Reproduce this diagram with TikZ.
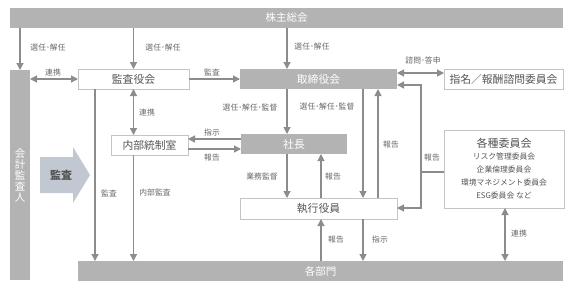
\documentclass[tikz,border=0pt]{standalone}
\usepackage{fontspec}
\setmainfont{Noto Sans CJK JP}
\usetikzlibrary{arrows.meta,calc}
\definecolor{barfill}{HTML}{B3B3B3}
\definecolor{linecol}{HTML}{8C8C8C}
\definecolor{lblcol}{HTML}{666666}
\definecolor{boxborder}{HTML}{C4C4C4}
\definecolor{boxtext}{HTML}{555555}
\definecolor{bigarrow}{HTML}{C2C8D2}
\begin{document}
\begin{tikzpicture}[x=1bp,y=-1bp,
  gbox/.style={fill=barfill,draw=none,text=white,inner sep=0,outer sep=0,anchor=north west,font=\fontsize{10.5bp}{12bp}\selectfont},
  wbox/.style={fill=white,draw=boxborder,line width=0.8bp,text=boxtext,inner sep=0,outer sep=0,anchor=north west,font=\fontsize{10.8bp}{12bp}\selectfont},
  lbl/.style={text=lblcol,inner sep=0,font=\fontsize{7.8bp}{9bp}\selectfont},
  arr/.style={draw=linecol,line width=1.2bp,-{Triangle[width=7bp,length=7bp]}},
  darr/.style={draw=linecol,line width=1.2bp,{Triangle[width=7bp,length=7bp]}-{Triangle[width=7bp,length=7bp]}},
  ln/.style={draw=linecol,line width=1.2bp}]
\useasboundingbox (0,0) rectangle (573,289);
% lanes
\coordinate (L95) at (95,0);
\coordinate (L287) at (287,0);
\coordinate (L321) at (321,0);
\coordinate (L363) at (363,0);
\coordinate (L378) at (378,0);
\coordinate (L421) at (421,0);
\coordinate (L505) at (505,0);
\coordinate (Y73) at (0,73);
\coordinate (Y85) at (0,85);
\coordinate (Y139) at (0,139);
\coordinate (Y149) at (0,149);
\coordinate (Y172) at (0,172);
\coordinate (Y208) at (0,208);
% nodes
\node[gbox,minimum width=553bp,minimum height=20bp] (top) at (10,8) {株主総会};
\node[gbox,minimum width=20bp,minimum height=210bp,align=center,font=\fontsize{10.5bp}{11bp}\selectfont] (left) at (10,70) {会\\計\\監\\査\\人};
\node[gbox,minimum width=485bp,minimum height=20bp] (bottom) at (78,261) {各部門};
\node[wbox,minimum width=111bp,minimum height=20bp] (kansa) at (78,69) {監査役会};
\node[gbox,minimum width=157bp,minimum height=20bp,font=\fontsize{10.8bp}{12bp}\selectfont] (tori) at (240,69) {取締役会};
\node[wbox,minimum width=119bp,minimum height=20bp] (shimei) at (444,69) {指名／報酬諮問委員会};
\node[wbox,minimum width=77bp,minimum height=20bp] (naibu) at (111,135) {内部統制室};
\node[gbox,minimum width=106bp,minimum height=20bp,font=\fontsize{10.8bp}{12bp}\selectfont] (shacho) at (241,134) {社長};
\node[wbox,minimum width=157bp,minimum height=21bp] (shikko) at (240,198) {執行役員};
\node[wbox,minimum width=120bp,minimum height=78bp] (kakushu) at (444,130) {};
\node[text=boxtext,inner sep=0,font=\fontsize{11bp}{12bp}\selectfont] (kakushuT) at (504,143) {各種委員会};
\node[text=boxtext,inner sep=0,align=center,font=\fontsize{7.8bp}{12.8bp}\selectfont,anchor=north] (kakushuS) at (504,153) {リスク管理委員会\\企業倫理委員会\\環境マネジメント委員会\\ESG委員会 など};
% big arrow
\fill[bigarrow] (40,157) -- (73,157) -- (73,147) -- (90,175) -- (73,203) -- (73,193) -- (40,193) -- cycle;
\node[text=boxtext,inner sep=0,font=\bfseries\fontsize{11bp}{12bp}\selectfont] (kansaA) at (61,175) {監査};
% connectors
\draw[arr] (top.south -| left.north) -- (left.north);
\draw[arr] (top.south -| kansa.north) -- (kansa.north);
\draw[arr] (top.south -| L287) -- (tori.north -| L287);
\draw[darr] (left.east |- kansa.west) -- (kansa.west);
\draw[arr] (kansa.east) -- (tori.west);
\draw[darr] (tori.east |- Y73) -- (shimei.west |- Y73);
\draw[darr] (kansa.south) -- (naibu.north -| kansa.south);
\draw[arr] (tori.south -| L287) -- (shacho.north -| L287);
\draw[arr] (shacho.west |- Y139) -- (naibu.east |- Y139);
\draw[arr] (naibu.east |- Y149) -- (shacho.west |- Y149);
\draw[arr] (shacho.south -| L287) -- (shikko.north -| L287);
\draw[arr] (shikko.north -| L321) -- (shacho.south -| L321);
\draw[arr] (tori.south -| L363) -- (shikko.north -| L363);
\draw[arr] (shikko.north -| L378) -- (tori.south -| L378);
\draw[ln] (kakushu.west |- Y172) -- (L421 |- Y172);
\draw[arr] (L421 |- Y172) |- (tori.east |- Y85);
\draw[arr] (L421 |- Y172) |- (shikko.east |- Y208);
\draw[arr] (kansa.south -| L95) -- (bottom.north -| L95);
\draw[arr] (naibu.south -| kansa.south) -- (bottom.north -| kansa.south);
\draw[arr] (shikko.south -| L363) -- (bottom.north -| L363);
\draw[arr] (bottom.north -| L321) -- (shikko.south -| L321);
\draw[darr] (kakushu.south -| L505) -- (bottom.north -| L505);
% labels
\node[lbl] (l1) at (48,48) {選任･解任};
\node[lbl] (l2) at (163,48) {選任･解任};
\node[lbl] (l3) at (312,47) {選任･解任};
\node[lbl] (l4) at (53,73) {連携};
\node[lbl] (l5) at (212,72) {監査};
\node[lbl] (l6) at (423,60) {諮問･答申};
\node[lbl] (l7) at (147,113) {連携};
\node[lbl] (l8) at (250,108) {選任･解任･監督};
\node[lbl] (l9) at (327,107) {選任･解任･監督};
\node[lbl] (l10) at (212,133) {指示};
\node[lbl] (l11) at (212,158) {報告};
\node[lbl] (l12) at (391,145) {報告};
\node[lbl] (l13) at (432,158) {報告};
\node[lbl] (l14) at (262,177) {業務監督};
\node[lbl] (l15) at (333,177) {報告};
\node[lbl] (l16) at (109,193) {監査};
\node[lbl] (l17) at (155,193) {内部監査};
\node[lbl] (l18) at (336,240) {報告};
\node[lbl] (l19) at (380,240) {指示};
\node[lbl] (l20) at (519,234) {連携};
\end{tikzpicture}
\end{document}
